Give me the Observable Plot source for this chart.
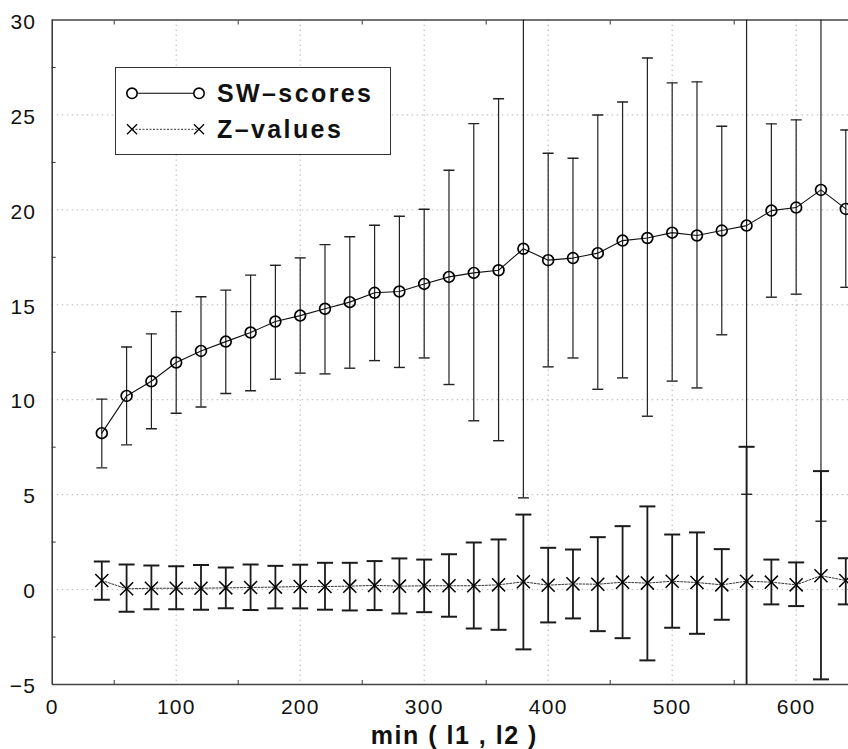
<!DOCTYPE html>
<html>
<head>
<meta charset="utf-8">
<script src="https://cdn.jsdelivr.net/npm/d3@7"></script>
<script src="https://cdn.jsdelivr.net/npm/@observablehq/plot@0.6"></script>
<style>
  html, body { margin: 0; padding: 0; background: #fff; }
  #wrap { position: relative; width: 848px; height: 749px; overflow: hidden; font-family: "Liberation Sans", Arial, Helvetica, sans-serif; }
  #legend { position: absolute; left: 115px; top: 67px; width: 276px; height: 88px; border: 1.5px solid #333; background: #fff; box-sizing: border-box; }
</style>
</head>
<body>
<div id="wrap"></div>
<script>
// ---- data ----
const xs = [40,60,80,100,120,140,160,180,200,220,240,260,280,300,320,340,360,380,400,420,440,460,480,500,520,540,560,580,600,620,640];
const swMean = [8.24,10.2,10.97,11.96,12.57,13.06,13.54,14.12,14.43,14.79,15.14,15.63,15.70,16.10,16.47,16.68,16.82,17.95,17.35,17.46,17.72,18.38,18.52,18.80,18.65,18.91,19.17,19.96,20.12,21.05,20.05];
const swLow  = [6.41,7.62,8.47,9.29,9.62,10.33,10.47,11.08,11.4,11.36,11.66,12.06,11.70,12.2,10.8,8.89,7.84,4.83,11.73,12.2,10.55,11.15,9.13,10.98,10.62,13.42,5.02,15.4,15.56,3.6,15.92];
const swHigh = [10.03,12.78,13.47,14.64,15.42,15.77,16.56,17.08,17.47,18.17,18.58,19.19,19.66,20.03,22.09,24.54,25.85,31.07,22.98,22.72,25.0,25.68,28.0,26.69,26.74,24.4,33.3,24.53,24.74,38.5,24.21];
const zMean  = [0.48,0.04,0.07,0.07,0.07,0.09,0.11,0.13,0.16,0.16,0.18,0.22,0.18,0.2,0.2,0.2,0.25,0.41,0.23,0.3,0.28,0.39,0.34,0.44,0.37,0.25,0.44,0.39,0.25,0.73,0.48];
const zLow   = [-0.54,-1.17,-1.03,-1.03,-1.06,-0.99,-1.08,-0.99,-0.99,-1.06,-1.1,-1.08,-1.26,-1.19,-1.43,-2.05,-2.12,-3.15,-1.73,-1.52,-2.19,-2.56,-3.73,-2.01,-2.33,-1.59,-6.64,-0.78,-0.87,-4.73,-0.78];
const zHigh  = [1.48,1.32,1.27,1.23,1.29,1.16,1.32,1.25,1.31,1.41,1.41,1.5,1.64,1.58,1.86,2.48,2.64,3.95,2.2,2.11,2.76,3.34,4.38,2.9,3.01,2.13,7.52,1.58,1.43,6.24,1.65];

const xTicks = [0,100,200,300,400,500,600];
const xMinor = [50,150,250,350,450,550,650];
const yTicks = [-5,0,5,10,15,20,25,30];
const yMinor = [-2.5,2.5,7.5,12.5,17.5,22.5,27.5];
const xGrid = [100,200,300,400,500,600];
const yGrid = [0,5,10,15,20,25];
const xDomain = [0, 642.2];
const yDomain = [-5, 30];
const xTitle = "min ( l1 , l2 )";
const seriesNames = ["SW\u2013scores", "Z\u2013values"];

const data = xs.map((x, i) => ({x, sw: swMean[i], swLo: swLow[i], swHi: swHigh[i], z: zMean[i], zLo: zLow[i], zHi: zHigh[i]}));

// horizontal-bar symbol for error-bar caps
const capSymbol = { draw(ctx, size) { const w = Math.sqrt(size / Math.PI); ctx.moveTo(-w, 0); ctx.lineTo(w, 0); } };
const fmt = d => d < 0 ? "\u2212" + Math.abs(d) : String(d);

const chart = Plot.plot({
  width: 848, height: 749,
  marginLeft: 51.7, marginRight: 0, marginTop: 19.5, marginBottom: 65,
  x: {domain: xDomain, axis: null},
  y: {domain: yDomain, axis: null},
  style: {fontFamily: "Liberation Sans, Arial, Helvetica, sans-serif", background: "#fff", color: "#111", overflow: "hidden"},
  marks: [
    Plot.gridX(xGrid, {stroke: "#888", strokeOpacity: 0.75, strokeWidth: 0.8, strokeDasharray: "1.5,3.5"}),
    Plot.gridY(yGrid, {stroke: "#888", strokeOpacity: 0.75, strokeWidth: 0.8, strokeDasharray: "1.5,3.5"}),
    // frame lines
    Plot.ruleX([xDomain[0]], {stroke: "#333", strokeWidth: 1.5}),
    Plot.ruleY(yDomain, {stroke: "#444", strokeWidth: 1.5}),
    // minor inward ticks
    Plot.axisY(yMinor, {anchor: "left", tickSize: -4, tickFormat: () => "", label: null, stroke: "#333"}),
    Plot.axisX(xMinor, {anchor: "bottom", tickSize: -4, tickFormat: () => "", label: null, stroke: "#333"}),
    Plot.axisX(xMinor, {anchor: "top", tickSize: -4, tickFormat: () => "", label: null, stroke: "#333"}),
    // tick labels
    Plot.text(yTicks, {y: d => d, text: fmt, frameAnchor: "left", textAnchor: "end", dx: -16, dy: 2, fontSize: 21, fill: "#111"}),
    Plot.text(xTicks, {x: d => d, text: fmt, frameAnchor: "bottom", lineAnchor: "top", dy: 15, fontSize: 21, fill: "#111"}),
    // axis title
    Plot.text([xTitle], {text: d => d, frameAnchor: "bottom", lineAnchor: "bottom", dx: 4, dy: 59, fontSize: 25, fontWeight: "bold", fill: "#111"}),
    // SW-scores error bars
    Plot.ruleX(data, {x: "x", y1: "swLo", y2: "swHi", stroke: "#222", strokeWidth: 1.2, clip: true}),
    Plot.dot(data, {x: "x", y: "swLo", symbol: capSymbol, r: 5.5, stroke: "#222", strokeWidth: 1.4, clip: true}),
    Plot.dot(data, {x: "x", y: "swHi", symbol: capSymbol, r: 5.5, stroke: "#222", strokeWidth: 1.4, clip: true}),
    // Z-values error bars
    Plot.ruleX(data, {x: "x", y1: "zLo", y2: "zHi", stroke: "#1a1a1a", strokeWidth: 1.8, clip: true}),
    Plot.dot(data, {x: "x", y: "zLo", symbol: capSymbol, r: 8, stroke: "#1a1a1a", strokeWidth: 2, clip: true}),
    Plot.dot(data, {x: "x", y: "zHi", symbol: capSymbol, r: 8, stroke: "#1a1a1a", strokeWidth: 2, clip: true}),
    // lines
    Plot.line(data, {x: "x", y: "sw", stroke: "#111", strokeWidth: 1.1, clip: true}),
    Plot.line(data, {x: "x", y: "z", stroke: "#333", strokeWidth: 1, strokeDasharray: "2,1.5", clip: true}),
    // markers
    Plot.dot(data, {x: "x", y: "sw", r: 5.4, stroke: "#000", strokeWidth: 1.7, fill: "none", clip: true}),
    Plot.dot(data, {x: "x", y: "z", symbol: "times", r: 6, stroke: "#000", strokeWidth: 1.5, clip: true})
  ]
});

// letter spacing to match the wide lettering of the original
d3.select(chart).selectAll("text").each(function () {
  const t = this.textContent;
  this.style.letterSpacing = (t === xTitle) ? "1.5px" : "1.2px";
});

const wrap = document.getElementById("wrap");
wrap.appendChild(chart);

// legend overlay
const legend = document.createElement("div");
legend.id = "legend";
legend.innerHTML = `
<svg width="276" height="88" xmlns="http://www.w3.org/2000/svg" style="position:absolute;left:-1.5px;top:-1.5px;overflow:visible">
  <g fill="none" stroke="#000">
    <line x1="22.5" y1="26.3" x2="78.5" y2="26.3" stroke-width="1.1"/>
    <circle cx="17" cy="26.3" r="5.2" stroke-width="1.6"/>
    <circle cx="84" cy="26.3" r="5.2" stroke-width="1.6"/>
    <line x1="17" y1="62.3" x2="84" y2="62.3" stroke="#333" stroke-width="1" stroke-dasharray="2,1.5"/>
    <path d="M12,57.3L22,67.3M12,67.3L22,57.3M79,57.3L89,67.3M79,67.3L89,57.3" stroke-width="1.3"/>
  </g>
  <text x="102" y="34.7" font-size="25" font-weight="bold" fill="#111" style="letter-spacing:2.4px">${seriesNames[0]}</text>
  <text x="102" y="70.7" font-size="25" font-weight="bold" fill="#111" style="letter-spacing:2.4px">${seriesNames[1]}</text>
</svg>`;
wrap.appendChild(legend);
</script>
</body>
</html>
